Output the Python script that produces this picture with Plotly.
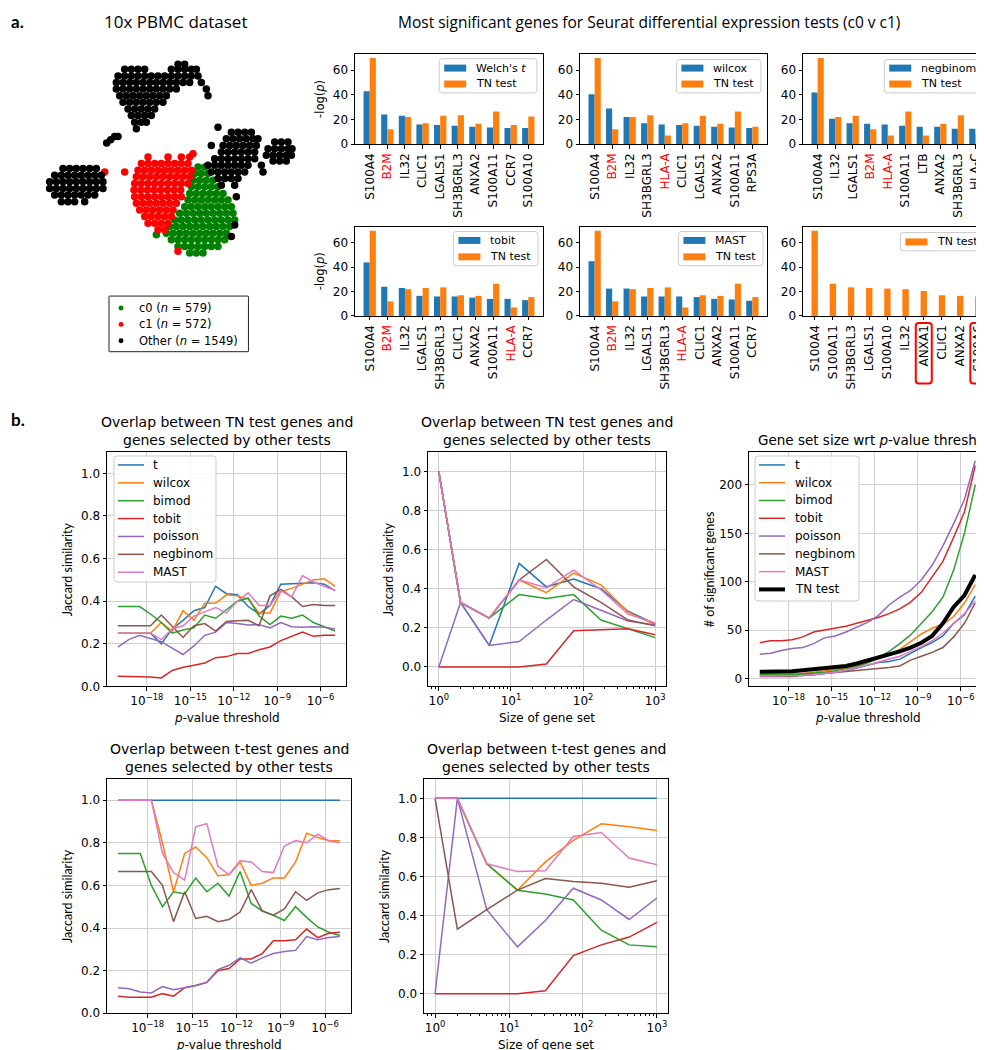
import re
import plotly.graph_objects as go

W, H = 984, 1050

BLUE = "#1f77b4"; ORANGE = "#ff7f0e"; GREEN = "#2ca02c"; RED = "#d62728"
PURPLE = "#9467bd"; BROWN = "#8c564b"; PINK = "#e377c2"

# ---------------- panel a: bar charts ----------------
genes_welch = ["S100A4", "B2M", "IL32", "CLIC1", "LGALS1", "SH3BGRL3", "ANXA2", "S100A11", "CCR7", "S100A10"]
welch_vals = [43, 24, 23, 16, 15.5, 15, 14, 13.5, 13, 13]
welch_tn = [70, 12, 22, 17, 23, 23.5, 16.5, 26.5, 15.5, 22.5]

genes_wilcox = ["S100A4", "B2M", "IL32", "SH3BGRL3", "HLA-A", "CLIC1", "LGALS1", "ANXA2", "S100A11", "RPS3A"]
wilcox_vals = [40.5, 29, 22, 17, 16, 15.5, 15, 14, 13.5, 13]
wilcox_tn = [70, 12, 22, 23.5, 7, 17, 23, 16.5, 26.5, 14]

genes_negbinom = ["S100A4", "IL32", "LGALS1", "B2M", "HLA-A", "S100A11", "LTB", "ANXA2", "SH3BGRL3", "HLA-C"]
negbinom_vals = [42, 20.5, 17, 16.5, 16, 15, 14, 14, 12.5, 12.5]
negbinom_tn = [70, 22, 23, 12, 7, 26.5, 7, 16.5, 23.5, 8]

genes_tobit = ["S100A4", "B2M", "IL32", "LGALS1", "SH3BGRL3", "CLIC1", "ANXA2", "S100A11", "HLA-A", "CCR7"]
tobit_vals = [44, 24, 23, 16.5, 16, 16, 15, 14, 14, 13]
tobit_tn = [70, 12, 22, 23, 23.5, 17, 16.5, 26.5, 7, 15.5]

genes_mast = ["S100A4", "B2M", "IL32", "LGALS1", "SH3BGRL3", "HLA-A", "CLIC1", "ANXA2", "S100A11", "CCR7"]
mast_vals = [45, 22.5, 22.5, 16, 16, 16, 15.5, 14, 13.5, 12.5]
mast_tn = [70, 12, 22, 23, 23.5, 7, 17, 16.5, 26.5, 15.5]

genes_tn = ["S100A4", "S100A11", "SH3BGRL3", "LGALS1", "S100A10", "IL32", "ANXA1", "CLIC1", "ANXA2", "S100A6"]
tn_only = [70, 26.5, 23.5, 23, 22.5, 22, 20.5, 17, 16.5, 16]

red_genes = ["B2M", "HLA-A"]
boxed_genes = ["ANXA1", "S100A6"]

# ---------------- panel a: t-SNE (approximate positions) ----------------
other_rows = [
    (170, [510, 530]),
    (185, [350, 370, 390, 410, 490, 510, 530, 550, 565]),
    (205, [330, 350, 370, 390, 410, 430, 450, 470, 490, 510, 530, 550, 570]),
    (225, [325, 345, 365, 385, 405, 425, 445, 465, 485, 505, 525, 545, 580]),
    (245, [325, 345, 365, 385, 405, 425, 445, 465, 485, 505, 595]),
    (265, [335, 355, 375, 395, 415, 435, 455, 475, 600]),
    (285, [345, 365, 385, 405, 425, 445, 465]),
    (305, [360, 380, 400, 420, 440]),
    (325, [370, 390, 410, 430]),
    (345, [380, 400, 415]),
    (365, [385]),
    (388, [320, 330]), (398, [308]), (408, [296]),
    (485, [165, 185, 205, 225, 245, 265]),
    (505, [140, 160, 180, 200, 220, 240, 260, 280]),
    (525, [125, 145, 165, 185, 205, 225, 245, 265, 285]),
    (545, [125, 145, 165, 185, 205, 225, 245, 265, 285]),
    (565, [140, 160, 180, 200, 220, 240, 260]),
    (585, [160, 180, 200, 230]),
    (360, [630]),
    (375, [670, 690, 710, 730]),
    (395, [655, 675, 695, 715, 735, 750]),
    (415, [610, 645, 665, 685, 705, 725, 745]),
    (435, [640, 660, 680, 700, 720, 740]),
    (455, [620, 640, 660, 680, 700, 720, 740]),
    (475, [600, 620, 640, 660, 680, 700, 720, 760]),
    (495, [610, 630, 650, 670, 690, 710, 765]),
    (515, [630, 650, 670, 690]),
    (535, [640, 680]),
    (405, [800, 820, 840]),
    (425, [780, 800, 820, 840, 852]),
    (445, [775, 795, 815, 835, 850]),
    (462, [795, 815, 835]),
    (570, [685]), (655, [680]), (690, [670]),
]
c1_rows = [
    (440, [555]),
    (450, [420, 480, 520, 545]),
    (470, [400, 420, 440, 460, 480, 500, 520, 540]),
    (490, [390, 410, 430, 450, 470, 490, 510, 530, 550]),
    (495, [290, 350]),
    (510, [385, 405, 425, 445, 465, 485, 505, 525, 545]),
    (530, [380, 400, 420, 440, 460, 480, 500, 520, 540]),
    (550, [378, 398, 418, 438, 458, 478, 498, 518]),
    (570, [380, 400, 420, 440, 460, 480, 500, 520]),
    (590, [385, 405, 425, 445, 465, 485, 505]),
    (610, [395, 415, 435, 455, 475, 495]),
    (630, [410, 430, 450, 470, 490]),
    (650, [420, 440, 460, 480]),
    (670, [450, 470]),
    (735, [510]),
]
c0_rows = [
    (480, [570, 590]),
    (500, [560, 580, 600]),
    (520, [555, 575, 595, 615]),
    (540, [550, 570, 590, 610, 630]),
    (560, [545, 565, 585, 605, 625, 645]),
    (580, [540, 560, 580, 600, 620, 640, 660]),
    (600, [530, 550, 570, 590, 610, 630, 650, 670]),
    (620, [515, 535, 555, 575, 595, 615, 635, 655, 675]),
    (640, [500, 520, 540, 560, 580, 600, 620, 640, 660, 680]),
    (660, [485, 505, 525, 545, 565, 585, 605, 625, 645, 665]),
    (680, [475, 495, 515, 535, 555, 575, 595, 615, 635, 655]),
    (685, [445]),
    (700, [490, 510, 530, 550, 570, 590, 610, 630, 650]),
    (720, [510, 530, 550, 570, 590, 610, 630]),
    (740, [545, 565, 585]),
]
group_names = ["c0 (<i>n</i> = 579)", "c1 (<i>n</i> = 572)", "Other (<i>n</i> = 1549)"]
group_colors = ["#008000", "#ff0000", "#000000"]

# ---------------- panel b data ----------------
pval_exponents = [-20, -19.25, -18.5, -17.75, -17, -16.25, -15.5, -14.75, -14, -13.25, -12.5,
                  -11.75, -11, -10.25, -9.5, -8.75, -8, -7.25, -6.5, -5.75, -5]
gene_set_sizes = [1, 2, 5, 13, 31, 74, 177, 421, 1000]
test_names = ["t", "wilcox", "bimod", "tobit", "poisson", "negbinom", "MAST"]
test_colors = [BLUE, ORANGE, GREEN, RED, PURPLE, BROWN, PINK]

# b1: TN overlap vs p-value threshold
tn_p_t = [0.25, 0.25, 0.25, 0.25, 0.20, 0.27, 0.31, 0.355, 0.37, 0.47, 0.435, 0.43, 0.375, 0.34, 0.38, 0.48, 0.482, 0.485, 0.487, 0.48, 0.45]
tn_p_wilcox = [0.25, 0.25, 0.25, 0.25, 0.30, 0.26, 0.355, 0.31, 0.39, 0.39, 0.43, 0.425, 0.41, 0.345, 0.345, 0.445, 0.46, 0.48, 0.50, 0.505, 0.47]
tn_p_bimod = [0.375, 0.375, 0.375, 0.34, 0.30, 0.25, 0.265, 0.275, 0.335, 0.32, 0.36, 0.40, 0.415, 0.33, 0.29, 0.33, 0.32, 0.335, 0.30, 0.28, 0.26]
tn_p_tobit = [0.048, 0.045, 0.045, 0.044, 0.040, 0.075, 0.09, 0.10, 0.11, 0.135, 0.14, 0.155, 0.155, 0.172, 0.185, 0.215, 0.235, 0.255, 0.235, 0.24, 0.24]
tn_p_poisson = [0.185, 0.22, 0.24, 0.225, 0.21, 0.18, 0.15, 0.19, 0.24, 0.255, 0.30, 0.295, 0.288, 0.29, 0.275, 0.30, 0.28, 0.278, 0.28, 0.278, 0.27]
tn_p_negbinom = [0.285, 0.285, 0.285, 0.285, 0.335, 0.28, 0.23, 0.285, 0.295, 0.26, 0.305, 0.308, 0.31, 0.285, 0.425, 0.455, 0.42, 0.375, 0.385, 0.38, 0.38]
tn_p_mast = [0.25, 0.25, 0.25, 0.25, 0.22, 0.27, 0.285, 0.33, 0.35, 0.37, 0.345, 0.40, 0.44, 0.38, 0.38, 0.45, 0.42, 0.52, 0.49, 0.47, 0.45]

# b2: TN overlap vs gene set size
tn_s_t = [1.0, 0.33, 0.11, 0.53, 0.41, 0.45, 0.40, 0.285, 0.22]
tn_s_wilcox = [1.0, 0.33, 0.25, 0.445, 0.38, 0.48, 0.42, 0.28, 0.215]
tn_s_bimod = [1.0, 0.33, 0.25, 0.37, 0.35, 0.37, 0.24, 0.195, 0.15]
tn_s_tobit = [0, 0, 0, 0, 0.015, 0.185, 0.19, 0.195, 0.165]
tn_s_poisson = [0, 0.33, 0.11, 0.13, 0.24, 0.345, 0.29, 0.235, 0.215]
tn_s_negbinom = [1.0, 0.33, 0.25, 0.445, 0.55, 0.41, 0.33, 0.24, 0.21]
tn_s_mast = [1.0, 0.33, 0.25, 0.445, 0.405, 0.495, 0.395, 0.27, 0.225]

# b3: number of significant genes vs p-value threshold
n_t = [3, 3, 3, 3, 3.5, 4, 5, 6.5, 8, 11, 14, 16.5, 17.5, 20, 26, 32, 37, 44, 57, 66, 85]
n_wilcox = [5, 5, 5, 5, 5.5, 6.5, 8, 9, 11, 13.5, 17, 20.5, 25, 30, 38, 46, 52, 56, 64, 78, 97]
n_bimod = [4, 4, 4, 4, 5, 5.5, 6.5, 8, 10, 12.5, 16, 21, 28, 36, 45, 57, 69, 84, 112, 150, 200]
n_tobit = [37, 39, 39, 40, 43, 48, 50, 52, 54, 57, 60, 63, 67, 72, 79, 89, 105, 121, 146, 172, 220]
n_poisson = [25, 26, 29, 31, 32, 36, 42, 44, 48, 53, 58, 65, 76, 84, 91, 102, 117, 137, 160, 185, 225]
n_negbinom = [2, 2, 2, 2, 3, 4, 5, 6, 7.5, 8.5, 9.5, 10.5, 11.5, 13, 19, 23, 27, 32, 43, 57, 78]
n_mast = [2.5, 2.5, 2.5, 2.5, 3, 4, 5, 6.5, 8.5, 11, 14, 17, 20, 23, 28, 33, 39, 47, 57, 67, 80]
n_tn = [7, 7, 7, 7.5, 8.5, 9.5, 10.5, 11.5, 13, 15.5, 18.5, 21.5, 24.5, 28, 32, 37, 44, 57, 74, 86, 107]

# b4: t-test overlap vs p-value threshold
t_p_t = [1.0] * 21
t_p_wilcox = [1, 1, 1, 1, 0.80, 0.57, 0.75, 0.78, 0.73, 0.645, 0.65, 0.71, 0.60, 0.61, 0.635, 0.635, 0.71, 0.845, 0.825, 0.81, 0.81]
t_p_bimod = [0.75, 0.75, 0.75, 0.6, 0.5, 0.57, 0.56, 0.635, 0.57, 0.61, 0.55, 0.665, 0.515, 0.48, 0.46, 0.435, 0.50, 0.45, 0.405, 0.38, 0.365]
t_p_tobit = [0.08, 0.075, 0.075, 0.075, 0.092, 0.08, 0.12, 0.13, 0.145, 0.20, 0.21, 0.255, 0.255, 0.28, 0.34, 0.34, 0.345, 0.395, 0.355, 0.375, 0.38]
t_p_poisson = [0.12, 0.115, 0.10, 0.095, 0.125, 0.11, 0.12, 0.13, 0.145, 0.205, 0.225, 0.26, 0.235, 0.26, 0.28, 0.29, 0.295, 0.36, 0.345, 0.355, 0.36]
t_p_negbinom = [0.665, 0.665, 0.665, 0.665, 0.60, 0.43, 0.57, 0.445, 0.455, 0.43, 0.44, 0.475, 0.58, 0.48, 0.46, 0.49, 0.57, 0.53, 0.565, 0.58, 0.585]
t_p_mast = [1, 1, 1, 1, 0.75, 0.66, 0.625, 0.875, 0.89, 0.69, 0.65, 0.715, 0.71, 0.665, 0.66, 0.785, 0.81, 0.80, 0.84, 0.81, 0.80]

# b5: t-test overlap vs gene set size
t_s_t = [1.0] * 9
t_s_wilcox = [1.0, 1.0, 0.665, 0.53, 0.675, 0.785, 0.87, 0.855, 0.835]
t_s_bimod = [1.0, 1.0, 0.665, 0.53, 0.51, 0.48, 0.325, 0.25, 0.24]
t_s_tobit = [0, 0, 0, 0, 0.015, 0.195, 0.25, 0.29, 0.365]
t_s_poisson = [0, 1.0, 0.43, 0.24, 0.375, 0.54, 0.48, 0.38, 0.49]
t_s_negbinom = [1.0, 0.33, 0.43, 0.53, 0.59, 0.575, 0.565, 0.545, 0.578]
t_s_mast = [1.0, 1.0, 0.665, 0.625, 0.63, 0.805, 0.825, 0.695, 0.66]

# ======================================================================
pvals = [10 ** e for e in pval_exponents]
fig = go.Figure()
layout = dict(width=W, height=H, margin=dict(l=0, r=0, t=0, b=0), showlegend=False,
              plot_bgcolor="white", paper_bgcolor="white", barmode="overlay",
              font=dict(family="DejaVu Sans", size=12, color="black"))
annotations = []
shapes = []

TICKFONT = dict(family="DejaVu Sans", size=12, color="black")
AX = dict(showline=True, linecolor="black", linewidth=1, mirror=True, ticks="outside",
          ticklen=3.5, tickwidth=1, tickcolor="black", tickfont=TICKFONT,
          zeroline=False, showgrid=False, fixedrange=True)

# approximate DejaVu Sans advance widths (em) used to size the hand-drawn legend boxes
NARROW = {"i": .28, "l": .28, "j": .28, "t": .39, "r": .41, "f": .35, "'": .28, "(": .39, ")": .39,
          "-": .36, ".": .32, " ": .32, "=": .84, "m": .97, "w": .82, "W": .99, "M": .86, "T": .61}


def text_width(s, size):
    s = re.sub(r"<[^>]+>", "", s)
    em = sum(NARROW.get(c, .70 if c.isupper() else .63) for c in s)
    return em * size * 1.08


def ax_id(n):
    return "" if n == 1 else str(n)


def PX(x):
    return x / W


def PY(y):
    return 1 - y / H


def note(text, x, y, size=12, family="DejaVu Sans", angle=0, xanchor="center", bold=False):
    if bold:
        text = "<b>" + text + "</b>"
    annotations.append(dict(text=text, x=PX(x), y=PY(y), xref="paper", yref="paper",
                            showarrow=False, xanchor=xanchor, yanchor="middle", textangle=angle,
                            borderpad=0, font=dict(family=family, size=size, color="black")))


def rounded_path(x0, y0, x1, y1, rr):
    P = lambda X, Y: "%.5f,%.5f" % (PX(X), PY(Y))
    return ("M" + P(x0 + rr, y0) + " L" + P(x1 - rr, y0) + " Q" + P(x1, y0) + " " + P(x1, y0 + rr) +
            " L" + P(x1, y1 - rr) + " Q" + P(x1, y1) + " " + P(x1 - rr, y1) +
            " L" + P(x0 + rr, y1) + " Q" + P(x0, y1) + " " + P(x0, y1 - rr) +
            " L" + P(x0, y0 + rr) + " Q" + P(x0, y0) + " " + P(x0 + rr, y0) + " Z")


def draw_legend(box, entries, sample_x, text_x, ys, kind, fsize, edge="#cccccc", rr=3):
    x0, y0, x1, y1 = box
    shapes.append(dict(type="path", path=rounded_path(x0, y0, x1, y1, rr), xref="paper", yref="paper",
                       line=dict(color=edge, width=1), fillcolor="rgba(255,255,255,0.85)", layer="above"))
    for (label, color, lw), y in zip(entries, ys):
        if kind == "patch":
            shapes.append(dict(type="rect", x0=PX(sample_x), x1=PX(sample_x + 22), y0=PY(y + 3.5), y1=PY(y - 3.5),
                               xref="paper", yref="paper", line=dict(width=0), fillcolor=color, layer="above"))
        elif kind == "line":
            shapes.append(dict(type="line", x0=PX(sample_x), x1=PX(sample_x + 26), y0=PY(y), y1=PY(y),
                               xref="paper", yref="paper", line=dict(color=color, width=lw), layer="above"))
        else:
            shapes.append(dict(type="circle", x0=PX(sample_x - 2.5), x1=PX(sample_x + 2.5),
                               y0=PY(y + 2.5), y1=PY(y - 2.5), xref="paper", yref="paper",
                               line=dict(width=0), fillcolor=color, layer="above"))
        note(label, text_x, y, size=fsize, xanchor="left")


# ---------------- bar charts ----------------
bar_panels = [
    (genes_welch, welch_vals, welch_tn, "Welch's <i>t</i>"),
    (genes_wilcox, wilcox_vals, wilcox_tn, "wilcox"),
    (genes_negbinom, negbinom_vals, negbinom_tn, "negbinom"),
    (genes_tobit, tobit_vals, tobit_tn, "tobit"),
    (genes_mast, mast_vals, mast_tn, "MAST"),
    (genes_tn, None, tn_only, None),
]
cols = [(347, 535), (572, 759), (795, 982)]
rows = [(46, 137), (220, 310)]
# legend box right edge, top edge and entry y's (pixels)
bar_legend_anchor = [(529, 51, [60.5, 76.5]), (753, 52, [60.5, 76.5]), (977, 52, [60.5, 76.5]),
                     (530, 225, [234, 250.5]), (755, 225, [234, 250.5]), (977, 226, [235.5])]
LEG_FS = 11

for k, (genes, other, tn, name) in enumerate(bar_panels):
    n = k + 1
    xa, ya = "x" + ax_id(n), "y" + ax_id(n)
    l, r = cols[k % 3]
    t, b = rows[k // 3]
    idx = list(range(len(genes)))
    if other is not None:
        fig.add_trace(go.Bar(x=[i - 0.175 for i in idx], y=other, width=0.35,
                             marker=dict(color=BLUE, line=dict(width=0)), xaxis=xa, yaxis=ya))
        fig.add_trace(go.Bar(x=[i + 0.175 for i in idx], y=tn, width=0.35,
                             marker=dict(color=ORANGE, line=dict(width=0)), xaxis=xa, yaxis=ya))
        xr = [-0.835, len(genes) - 1 + 0.835]
        entries = [(name, BLUE, 0), ("TN test", ORANGE, 0)]
    else:
        fig.add_trace(go.Bar(x=idx, y=tn, width=0.35, marker=dict(color=ORANGE, line=dict(width=0)),
                             xaxis=xa, yaxis=ya))
        xr = [-0.6425, len(genes) - 1 + 0.6425]
        entries = [("TN test", ORANGE, 0)]
    ticktext = [("<span style='color:#ff0000'>%s</span>" % g) if g in red_genes else g for g in genes]
    layout["xaxis" + ax_id(n)] = dict(AX, domain=[PX(l), PX(r)], range=xr, tickvals=idx,
                                      ticktext=ticktext, tickangle=-90, anchor=ya)
    layout["yaxis" + ax_id(n)] = dict(AX, domain=[PY(b), PY(t)], range=[0, 73.5],
                                      tickvals=[0, 20, 40, 60], anchor=xa)
    bx1, by0, ys = bar_legend_anchor[k]
    tw = max(text_width(e[0], LEG_FS) for e in entries)
    tx = bx1 - 5 - tw
    sx = tx - 9 - 22
    by1 = ys[-1] + 9
    draw_legend((sx - 5, by0, bx1, by1), entries, sx, tx, ys, "patch", LEG_FS)
    if k % 3 == 0:
        note("-log(<i>p</i>)", 312, (t + b) / 2, size=11.5, angle=-90)
    for i, g in enumerate(genes):
        if g in boxed_genes:
            cx = l + (i - xr[0]) / (xr[1] - xr[0]) * (r - l)
            shapes.append(dict(type="path", path=rounded_path(cx - 8, b + 7, cx + 8, b + 68, 3),
                               xref="paper", yref="paper", line=dict(color="#ff0000", width=2)))

# ---------------- t-SNE scatter ----------------
for rws, col in zip([c0_rows, c1_rows, other_rows], group_colors):
    xs = [x for y, xl in rws for x in xl]
    ys = [y for y, xl in rws for x in xl]
    fig.add_trace(go.Scatter(x=xs, y=ys, mode="markers", marker=dict(color=col, size=7.5, line=dict(width=0)),
                             xaxis="x7", yaxis="y7"))
layout["xaxis7"] = dict(domain=[0, PX(300)], range=[0, 900], visible=False, fixedrange=True, anchor="y7")
layout["yaxis7"] = dict(domain=[PY(310), 1], range=[930, 0], visible=False, fixedrange=True, anchor="x7")
sc_tw = max(text_width(nm, 11.5) for nm in group_names)
draw_legend((101, 290, 130 + sc_tw + 5, 346), [(nm, c, 0) for nm, c in zip(group_names, group_colors)],
            113, 130, [302, 318.5, 335], "marker", 11.5, edge="#222222", rr=0.5)

# ---------------- line charts ----------------
def sup(e):
    return "10<sup>%s</sup>" % (str(e).replace("-", "\u2212"))

p_tickvals = [1e-18, 1e-15, 1e-12, 1e-9, 1e-6]
p_ticktext = [sup(e) for e in [-18, -15, -12, -9, -6]]
s_tickvals = [1, 10, 100, 1000]
s_ticktext = [sup(e) for e in [0, 1, 2, 3]]
minor_vals = [0.8, 0.9] + [m * 10 ** d for d in range(3) for m in range(2, 10)]
GRID = dict(showgrid=True, gridcolor="#cfcfcf", gridwidth=1)
jac_ticks = [0, 0.2, 0.4, 0.6, 0.8, 1.0]
jac_text = ["0.0", "0.2", "0.4", "0.6", "0.8", "1.0"]

line_panels = [
    (8, pvals, [tn_p_t, tn_p_wilcox, tn_p_bimod, tn_p_tobit, tn_p_poisson, tn_p_negbinom, tn_p_mast],
     (99, 338, 447, 683), "p", [0, 1.1]),
    (9, gene_set_sizes, [tn_s_t, tn_s_wilcox, tn_s_bimod, tn_s_tobit, tn_s_poisson, tn_s_negbinom, tn_s_mast],
     (420, 658, 447, 683), "s", [-0.1, 1.1]),
    (10, pvals, [n_t, n_wilcox, n_bimod, n_tobit, n_poisson, n_negbinom, n_mast],
     (741, 978, 447, 683), "p", [-8.2, 234]),
    (11, pvals, [t_p_t, t_p_wilcox, t_p_bimod, t_p_tobit, t_p_poisson, t_p_negbinom, t_p_mast],
     (99, 343, 776, 1012), "p", [0, 1.1]),
    (12, gene_set_sizes, [t_s_t, t_s_wilcox, t_s_bimod, t_s_tobit, t_s_poisson, t_s_negbinom, t_s_mast],
     (416, 660, 776, 1012), "s", [-0.1, 1.1]),
]

for n, xv, series, (l, r, t, b), kind, yr in line_panels:
    xa, ya = "x%d" % n, "y%d" % n
    for col, vals in zip(test_colors, series):
        fig.add_trace(go.Scatter(x=xv, y=vals, mode="lines", line=dict(color=col, width=1.5),
                                 xaxis=xa, yaxis=ya))
    if n == 10:
        fig.add_trace(go.Scatter(x=xv, y=n_tn, mode="lines", line=dict(color="black", width=4),
                                 xaxis=xa, yaxis=ya))
    if kind == "p":
        xaxis = dict(AX, **GRID, type="log", range=[-20.75, -4.25], tickvals=p_tickvals, ticktext=p_ticktext)
    else:
        xaxis = dict(AX, **GRID, type="log", range=[-0.15, 3.15], tickvals=s_tickvals, ticktext=s_ticktext,
                     minor=dict(ticks="outside", ticklen=2, tickwidth=1, tickcolor="black",
                                tickvals=minor_vals, showgrid=False))
    xaxis.update(domain=[PX(l), PX(r)], anchor=ya)
    if n == 10:
        yaxis = dict(AX, **GRID, range=yr, tickvals=[0, 50, 100, 150, 200])
    else:
        yaxis = dict(AX, **GRID, range=yr, tickvals=jac_ticks, ticktext=jac_text)
    yaxis.update(domain=[PY(b), PY(t)], anchor=xa)
    layout["xaxis%d" % n] = xaxis
    layout["yaxis%d" % n] = yaxis
    cx = (l + r) / 2
    note("<i>p</i>-value threshold" if kind == "p" else "Size of gene set", cx, b + 32, size=12)
    ylab = "# of significant genes" if n == 10 else "Jaccard similarity"
    note(ylab, l - 40, (t + b) / 2, size=12.5, family="Lato", angle=-90)
    if n == 10:
        note("Gene set size wrt <i>p</i>-value thresh", cx, t - 12, size=13.5)
    else:
        first = "Overlap between TN test genes and" if n in (8, 9) else "Overlap between t-test genes and"
        note(first, cx, t - 30, size=14)
        note("genes selected by other tests", cx, t - 12, size=14)

# line legends (b1 and b3)
draw_legend((106, 451, 208, 578), [(nm, c, 1.5) for nm, c in zip(test_names, test_colors)],
            110, 144, [460 + 18 * i for i in range(7)], "line", 12)
draw_legend((747, 451, 851, 597), [(nm, c, 1.5) for nm, c in zip(test_names, test_colors)] + [("TN test", "black", 4)],
            751, 786, [460 + 17.9 * i for i in range(8)], "line", 12)

# ---------------- headers ----------------
note("a.", 2, 14, size=17, family="Lato", xanchor="left", bold=True)
note("b.", 2, 414, size=17, family="Lato", xanchor="left", bold=True)
note("10x PBMC dataset", 167, 14, size=17, family="Open Sans")
note("Most significant genes for Seurat differential expression tests (c0 v c1)", 641, 14, size=15.5, family="Open Sans")

layout["annotations"] = annotations
layout["shapes"] = shapes
fig.update_layout(**layout)
fig.write_html("out.html")
